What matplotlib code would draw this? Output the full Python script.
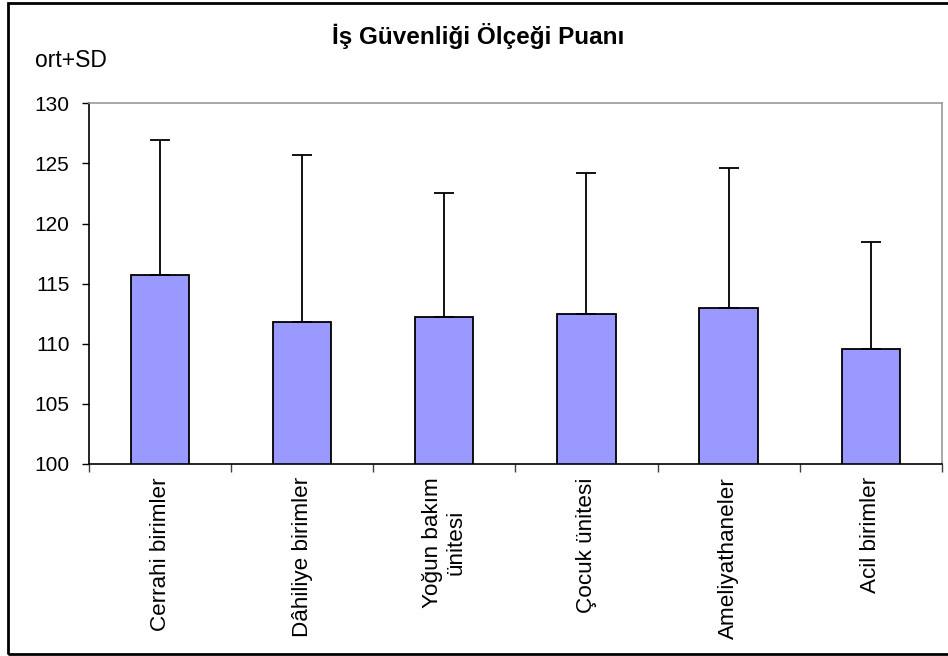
import matplotlib
matplotlib.use('Agg')
import matplotlib.pyplot as plt
from matplotlib.patches import Rectangle
import numpy as np

plt.rcParams['font.family'] = ['Liberation Sans', 'DejaVu Sans']

categories = ['Cerrahi birimler', 'Dâhiliye birimler', 'Yoğun bakım\nünitesi',
              'Çocuk ünitesi', 'Ameliyathaneler', 'Acil birimler']
means = [115.7, 111.8, 112.2, 112.5, 113.0, 109.6]
sd_tops = [126.95, 125.7, 122.5, 124.2, 124.6, 118.5]

sds = [t - m for t, m in zip(sd_tops, means)]
x = np.arange(len(categories))

fig = plt.figure(figsize=(9.48, 6.56), dpi=100)
ax = fig.add_axes([0.0939, 0.2927, 0.8995, 0.5498])

ax.bar(x, means, width=0.41, bottom=0, color='#9999FF', edgecolor='black',
       linewidth=1.3, zorder=2)
ax.errorbar(x, means, yerr=[np.zeros(len(sds)), sds], fmt='none',
            ecolor='black', elinewidth=1.3, capsize=7.5, capthick=1.3, zorder=3)

ax.set_xlim(-0.5, len(categories) - 0.5)
ax.set_ylim(100, 130)
ax.set_yticks(np.arange(100, 131, 5))
ax.tick_params(axis='y', direction='out', length=5, width=1, labelsize=15, pad=9)

# category ticks sit between the bars
ax.set_xticks(np.arange(-0.5, len(categories) + 0.5, 1))
ax.set_xticklabels([])
ax.tick_params(axis='x', direction='out', length=6, width=1, color='#404040')
for i, lab in enumerate(categories):
    ax.text(i, -0.037, lab, transform=ax.get_xaxis_transform(), rotation=90,
            ha='center', va='top', multialignment='center', fontsize=16.2)

ax.spines['left'].set_color('black')
ax.spines['bottom'].set_color('black')
ax.spines['top'].set_color('#999999')
ax.spines['right'].set_color('#999999')
for s in ax.spines.values():
    s.set_linewidth(1.2)

fig.text(0.504, 0.9325, 'İş Güvenliği Ölçeği Puanı', ha='center', va='baseline',
         fontsize=17.5, fontweight='bold')
fig.text(0.037, 0.898, 'ort+SD', ha='left', va='baseline', fontsize=16.5)

# outer frame around the chart
fig.patches.append(Rectangle((0.008, 0.003), 1.1, 0.992, transform=fig.transFigure,
                             fill=False, edgecolor='black', linewidth=2))

plt.savefig('out.png', dpi=100)
